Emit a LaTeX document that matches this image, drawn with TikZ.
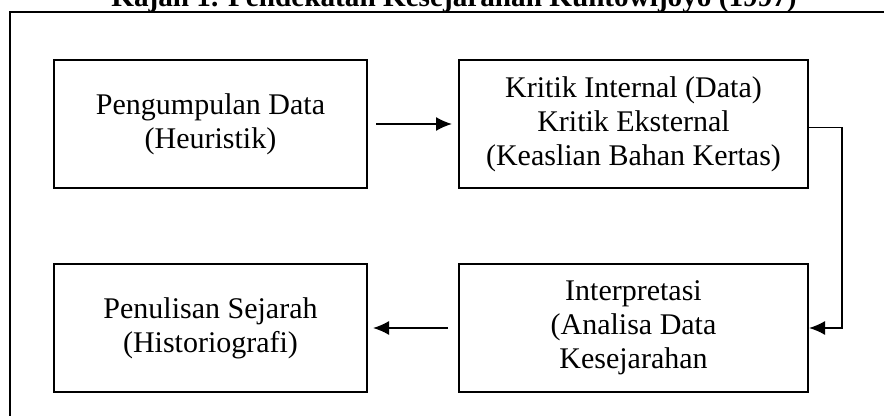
\documentclass[tikz,border=0pt]{standalone}
\usepackage{fontspec}
\setmainfont{Liberation Serif}
\usetikzlibrary{arrows.meta,positioning}
\tikzset{
  basic/.style  = {draw, line width=1pt, rectangle, align=center, inner sep=0pt,
                   font=\fontsize{15pt}{17pt}\selectfont},
  left box/.style  = {basic, minimum width=156.5pt, minimum height=64pt},
  right box/.style = {basic, minimum width=174.5pt, minimum height=64pt},
  link/.style   = {->, line width=0.8pt}
}

\begin{document}
\begin{tikzpicture}[
  x=1pt, y=1pt,
  >={Latex[length=8pt,width=7pt]}]
\useasboundingbox (0,0) rectangle (442,-208);

% frame and title
\draw[line width=1pt] (5,-6) rectangle (452,-220);
\node[anchor=base, inner sep=0pt, font=\fontsize{14.6pt}{17pt}\selectfont\bfseries] (title) at (227,-3.5)
  {Kajan 1. Pendekatan Kesejarahan Kuntowijoyo (1997)};

% first row
\node[left box] (heuristik) at (105.25,-62) {Pengumpulan Data\\(Heuristik)};
\node[right box, right=45pt of heuristik] (kritik)
  {Kritik Internal (Data)\\Kritik Eksternal\\(Keaslian Bahan Kertas)};
% second row
\node[left box, below=37pt of heuristik] (historiografi) {Penulisan Sejarah\\(Historiografi)};
\node[right box, below=37pt of kritik] (interpretasi) {Interpretasi\\(Analisa Data\\Kesejarahan};

\coordinate (turn) at (421,-62);

\draw[link, shorten <=4pt, shorten >=3pt] (heuristik) -- (kritik);
\draw[link] ([yshift=-1.75pt]kritik.east) -- ([yshift=-1.75pt]kritik.east -| turn)
  -- (interpretasi.east -| turn) -- (interpretasi.east);
\draw[link, shorten <=5pt, shorten >=2.5pt] (interpretasi) -- (historiografi);

\end{tikzpicture}
\end{document}
